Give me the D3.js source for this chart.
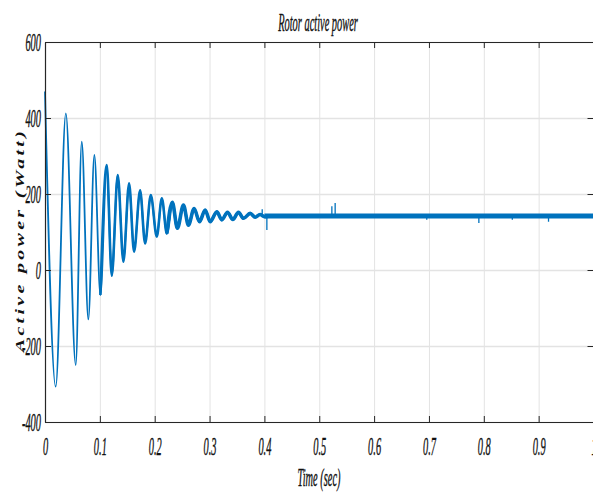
<!DOCTYPE html>
<html>
<head>
<meta charset="utf-8">
<script src="https://cdn.jsdelivr.net/npm/d3@7"></script>
<style>
  html, body { margin: 0; padding: 0; background: #fff; overflow: hidden; }
  svg { display: block; }
</style>
</head>
<body>
<svg id="chart" width="593" height="493"></svg>
<script>
// ---- data ----
const chartTitle = "Rotor active power";
const xLabel = "Time (sec)";
const yLabel = "Active power (Watt)";

const xTicks = [0, 0.1, 0.2, 0.3, 0.4, 0.5, 0.6, 0.7, 0.8, 0.9, 1];
const xTickLabels = ["0", "0.1", "0.2", "0.3", "0.4", "0.5", "0.6", "0.7", "0.8", "0.9", "1"];
const yTicks = [-400, -200, 0, 200, 400, 600];
const yTickLabels = ["-400", "-200", "0", "200", "400", "600"];

// transient oscillation: successive extremes (time s, power W)
const oscTime = [0, 0.0195, 0.038, 0.056, 0.067, 0.079, 0.090, 0.101, 0.1126, 0.1217,
  0.1327, 0.1429, 0.1533, 0.1624, 0.1734, 0.1825, 0.1929, 0.2038, 0.2130, 0.2221,
  0.2321, 0.2414, 0.2524, 0.2615, 0.2719, 0.2816, 0.2920, 0.3011, 0.3133, 0.3224,
  0.3327, 0.3425, 0.3527, 0.3619, 0.3741, 0.3832, 0.3920, 0.4010, 0.4100];
const oscPower = [470, -307, 412, -250, 338, -130, 303, -66, 276, -15,
  250, 22, 228, 48, 210, 70, 197, 88, 189, 96,
  178, 110, 171, 118, 162, 127, 158, 127, 153, 132,
  152, 133, 152, 136, 149, 139, 146, 140, 142];

// steady state band
const steadyTime = [0.40, 1.0];
const steadyPower = [142, 142];

// isolated spikes in steady state (time, tip value)
const spikeTime = [0.396, 0.4045, 0.523, 0.529, 0.696, 0.791, 0.852, 0.918];
const spikePower = [160, 105, 168, 176, 132, 124, 132, 127];

// ---- layout ----
const svg = d3.select("#chart");
const L = 45, R = 593.5, T = 42, B = 422;
const x = d3.scaleLinear().domain([0, 1]).range([L, R]);
const y = d3.scaleLinear().domain([-400, 600]).range([B, T]);
const blue = "#0072BD";
const axisColor = "#262626";
const fontFam = "'Liberation Serif', 'Times New Roman', serif";
const sx = 0.4;

// grid
svg.append("g").attr("transform", `translate(0,${B})`)
  .call(d3.axisBottom(x).tickValues(xTicks).tickSize(-(B - T)).tickFormat(""))
  .call(g => g.select(".domain").remove())
  .call(g => g.selectAll("line").attr("stroke", "#e3e3e3").attr("stroke-width", 1));
svg.append("g").attr("transform", `translate(${L},0)`)
  .call(d3.axisLeft(y).tickValues(yTicks).tickSize(-(R - L)).tickFormat(""))
  .call(g => g.select(".domain").remove())
  .call(g => g.selectAll("line").attr("stroke", "#e3e3e3").attr("stroke-width", 1.5));

// data
const plot = svg.append("g");
const pts = oscTime.map((t, i) => [t, oscPower[i]]);
const line = d3.line().x(d => x(d[0])).y(d => y(d[1])).curve(d3.curveMonotoneX);
plot.append("path").datum(pts).attr("d", line)
  .attr("fill", "none").attr("stroke", blue).attr("stroke-width", 1.8);
plot.append("path").datum(pts.filter(d => d[0] >= 0.1)).attr("d", line)
  .attr("fill", "none").attr("stroke", blue).attr("stroke-width", 2.6);
plot.append("path").datum(pts.filter(d => d[0] >= 0.22)).attr("d", line)
  .attr("fill", "none").attr("stroke", blue).attr("stroke-width", 3.6);
const steady = steadyTime.map((t, i) => [t, steadyPower[i]]);
plot.append("path").datum(steady).attr("d", d3.line().x(d => x(d[0])).y(d => y(d[1])))
  .attr("fill", "none").attr("stroke", blue).attr("stroke-width", 5);
plot.selectAll("line.spike").data(spikeTime).join("line")
  .attr("class", "spike")
  .attr("x1", d => x(d)).attr("x2", d => x(d))
  .attr("y1", y(steadyPower[0])).attr("y2", (d, i) => y(spikePower[i]))
  .attr("stroke", blue).attr("stroke-width", 1.3);

// axes (ticks inward)
const fmtX = d => xTickLabels[xTicks.indexOf(d)];
const fmtY = d => yTickLabels[yTicks.indexOf(d)];
const gx = svg.append("g").attr("transform", `translate(0,${B})`)
  .call(d3.axisBottom(x).tickValues(xTicks).tickFormat(fmtX).tickSizeInner(-6).tickSizeOuter(0).tickPadding(15));
const gy = svg.append("g").attr("transform", `translate(${L},0)`)
  .call(d3.axisLeft(y).tickValues(yTicks).tickFormat(fmtY).tickSizeInner(-6).tickSizeOuter(0).tickPadding(4));
const gt = svg.append("g").attr("transform", `translate(0,${T})`)
  .call(d3.axisTop(x).tickValues(xTicks).tickFormat("").tickSizeInner(-6).tickSizeOuter(0));
const gr = svg.append("g").attr("transform", `translate(${R},0)`)
  .call(d3.axisRight(y).tickValues(yTicks).tickFormat("").tickSizeInner(-6).tickSizeOuter(0));
[gx, gy, gt, gr].forEach(g => {
  g.select(".domain").attr("stroke", axisColor).attr("stroke-width", 1.2);
  g.selectAll(".tick line").attr("stroke", axisColor).attr("stroke-width", 1);
  g.selectAll("text").attr("font-family", fontFam).attr("font-style", "italic")
    .attr("font-size", 26).attr("fill", "#111")
    .attr("stroke", "#111").attr("stroke-width", 0.4);
});
gx.selectAll("text").attr("transform", `scale(${sx},1)`);
gy.selectAll("text").attr("transform", `scale(${sx},1)`).attr("x", -4 / sx);

// title and axis labels
svg.append("text")
  .attr("transform", `translate(318,31) scale(${sx},1)`)
  .attr("text-anchor", "middle").attr("font-family", fontFam)
  .attr("font-style", "italic").attr("font-size", 26).attr("fill", "#111")
  .attr("stroke", "#111").attr("stroke-width", 0.4)
  .text(chartTitle);
svg.append("text")
  .attr("transform", `translate(319,486) scale(${sx},1)`)
  .attr("text-anchor", "middle").attr("font-family", fontFam)
  .attr("font-style", "italic").attr("font-size", 26).attr("fill", "#111")
  .attr("stroke", "#111").attr("stroke-width", 0.4)
  .text(xLabel);
svg.append("text")
  .attr("transform", `translate(24,240) rotate(-90) scale(1,0.62)`)
  .attr("text-anchor", "middle").attr("font-family", fontFam)
  .attr("font-style", "italic").attr("font-weight", "bold")
  .attr("font-size", 20).attr("letter-spacing", 3.3).attr("fill", "#111")
  .text(yLabel);
</script>
</body>
</html>
